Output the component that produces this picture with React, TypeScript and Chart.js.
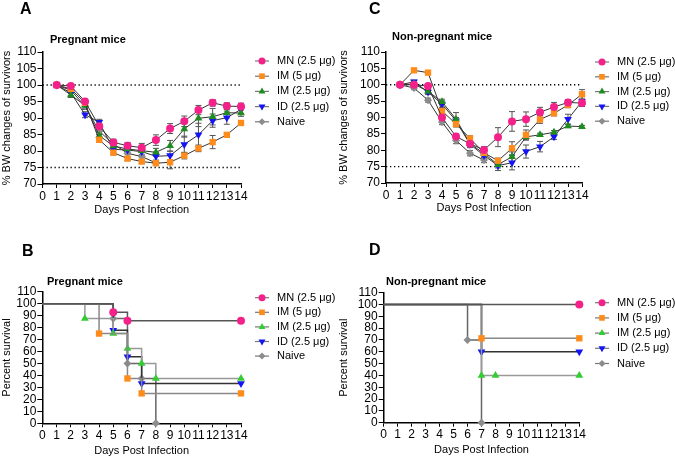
import React, { useEffect, useRef } from 'react';
import { Chart, registerables } from 'chart.js';
import { drawPoint } from 'chart.js/helpers';

Chart.register(...registerables);

const FONT = "'Liberation Sans', Arial, Helvetica, sans-serif";

// ---------- shared categories ----------
const groupLabels = ['MN (2.5 μg)', 'IM (5 μg)', 'IM (2.5 μg)', 'ID (2.5 μg)', 'Naive'];
const colorsTop = ['#F5218A', '#FF8C1A', '#1E8C1E', '#1414F5', '#8C8C8C'];
const colorsBottom = ['#F5218A', '#FF8C1A', '#33CC33', '#1414F5', '#8C8C8C'];
const pointStyles = ['circle', 'rect', 'triangle', 'triangle', 'rectRot'];
const pointRotations = [0, 0, 0, 180, 0];
const pointRadii = [4, 4.5, 4.5, 4.5, 4];
const kmLineColors = ['#555555', '#888888', '#999999', '#333333', '#666666'];
const xTickValues = [0, 1, 2, 3, 4, 5, 6, 7, 8, 9, 10, 11, 12, 13, 14];
const bwTickValues = [70, 75, 80, 85, 90, 95, 100, 105, 110];
const survTickValues = [0, 10, 20, 30, 40, 50, 60, 70, 80, 90, 100, 110];
const bwRefLines = [100, 75];

// ---------- Panel A: BW, pregnant ----------
const days = [1, 2, 3, 4, 5, 6, 7, 8, 9, 10, 11, 12, 13, 14];
const aMN = [100, 99.7, 95.0, 87.5, 82.6, 81.6, 81.0, 83.3, 86.8, 89.0, 92.4, 94.6, 93.6, 93.5];
const aMNsem = [0, 0.3, 0.6, 0.8, 1.0, 1.0, 1.3, 1.6, 1.5, 1.6, 1.4, 1.0, 1.0, 1.0];
const aIM5 = [100, 98.8, 94.6, 83.4, 79.5, 77.7, 76.8, 76.3, 76.6, 78.6, 80.8, 82.7, 84.9, 88.5];
const aIM5sem = [0, 0.5, 0.6, 0.6, 0.7, 0.6, 0.6, 0.6, 2.0, 1.0, 1.0, 2.0, 0.5, 0.5];
const aIM25 = [100, 97.0, 93.8, 84.7, 81.5, 80.6, 80.1, 79.6, 81.6, 86.7, 89.9, 90.4, 91.6, 91.5];
const aIM25sem = [0, 0.8, 1.0, 1.0, 1.0, 1.0, 1.2, 1.2, 1.6, 2.5, 2.5, 2.5, 1.6, 1.0];
const aID = [100, 97.6, 91.0, 88.7, 80.5, 80.3, 79.8, 78.4, 78.6, 82.0, 84.9, 89.2, 90.1, 92.6];
const aIDsem = [0, 0.8, 0.9, 0.9, 1.0, 1.2, 1.2, 1.2, 1.3, 2.5, 3.5, 2.0, 2.0, 1.2];
const aNaive = [100, 98.4, 93.6, 86.0, 82.1, 79.3, 78.3, 76.4];
const aNaiveSem = [0, 0.8, 1.0, 1.0, 1.2, 1.2, 1.2, 0.8];

// ---------- Panel C: BW, non-pregnant ----------
const cMN = [100, 100, 99.6, 90.0, 84.2, 82.0, 80.1, 84.0, 88.8, 89.5, 91.6, 93.2, 94.6, 94.4];
const cMNsem = [0, 0.3, 0.5, 0.8, 0.8, 0.8, 1.0, 2.9, 3.0, 2.2, 1.5, 1.4, 0.9, 1.0];
const cIM5 = [100, 104.4, 103.7, 92.0, 88.0, 83.6, 79.2, 76.8, 80.6, 84.7, 89.4, 91.3, 93.8, 97.1];
const cIM5sem = [0, 0.5, 0.5, 0.9, 0.9, 0.8, 0.8, 0.8, 2.0, 1.5, 1.2, 0.8, 0.8, 1.4];
const cIM25 = [100, 100.2, 98.0, 94.8, 89.5, 82.0, 79.0, 75.6, 78.0, 84.1, 84.7, 85.5, 87.4, 87.2];
const cIM25sem = [0, 0.4, 0.6, 0.8, 2.0, 1.0, 1.0, 1.0, 1.5, 1.0, 0.5, 0.5, 0.5, 0.4];
const cID = [100, 100.9, 97.8, 94.1, 89.0, 81.8, 78.4, 75.3, 76.2, 79.6, 81.1, 84.1, 89.5, 94.9];
const cIDsem = [0, 0.5, 0.8, 1.0, 1.0, 1.0, 1.0, 1.5, 2.2, 2.0, 1.6, 0.8, 1.5, 1.5];
const cNaive = [100, 99.0, 95.3, 88.6, 83.0, 79.1, 77.0];
const cNaiveSem = [0, 0.5, 0.6, 0.8, 1.0, 0.8, 0.8];

// ---------- Panel B: survival, pregnant ----------
const bMNdays = [0, 5, 6, 14];
const bMNsurv = [100, 92.9, 85.7, 85.7];
const bIM5days = [0, 4, 6, 7, 14];
const bIM5surv = [100, 75, 37.5, 25, 25];
const bIM25days = [0, 3, 5, 6, 7, 8, 14];
const bIM25surv = [100, 87.5, 75, 62.5, 50, 37.5, 37.5];
const bIDdays = [0, 5, 6, 7, 14];
const bIDsurv = [100, 77.8, 55.6, 33.3, 33.3];
const bNaiveDays = [0, 5, 6, 7, 8];
const bNaiveSurv = [100, 87.5, 50, 37.5, 0];

// ---------- Panel D: survival, non-pregnant ----------
const dMNdays = [0, 14];
const dMNsurv = [100, 100];
const dIM5days = [0, 7, 14];
const dIM5surv = [100, 71.4, 71.4];
const dIM25days = [0, 7, 8, 14];
const dIM25surv = [100, 40, 40, 40];
const dIDdays = [0, 7, 14];
const dIDsurv = [100, 60, 60];
const dNaiveDays = [0, 6, 7];
const dNaiveSurv = [100, 70, 0];

type Series = { xs: number[]; ys: number[]; sem?: number[] };
type PanelCfg = {
  x: number; y: number; w: number; h: number;
  area: { l: number; r: number; t: number; b: number };
  padBottom: number;
  letter: string; letterX: number; letterY: number;
  title: string; titleX: number; titleY: number;
  yTitle: string; yMin: number; yMax: number; yTicks: number[];
  legendX: number; legendY: number; legendDy: number;
  kind: 'bw' | 'surv';
  colors: string[];
  series: Series[];
};

const panels: PanelCfg[] = [
  {
    x: 0, y: 0, w: 337, h: 230,
    area: { l: 42.5, r: 241, t: 52, b: 184 }, padBottom: 13.4,
    letter: 'A', letterX: 20, letterY: 10,
    title: 'Pregnant mice', titleX: 50, titleY: 40,
    yTitle: '% BW changes of survivors', yMin: 70, yMax: 110, yTicks: bwTickValues,
    legendX: 255, legendY: 61, legendDy: 15.2,
    kind: 'bw', colors: colorsTop,
    series: [
      { xs: days, ys: aMN, sem: aMNsem },
      { xs: days, ys: aIM5, sem: aIM5sem },
      { xs: days, ys: aIM25, sem: aIM25sem },
      { xs: days, ys: aID, sem: aIDsem },
      { xs: days.slice(0, aNaive.length), ys: aNaive, sem: aNaiveSem },
    ],
  },
  {
    x: 337, y: 0, w: 338, h: 230,
    area: { l: 49, r: 245, t: 52, b: 183 }, padBottom: 15,
    letter: 'C', letterX: 32, letterY: 10,
    title: 'Non-pregnant mice', titleX: 55, titleY: 37,
    yTitle: '% BW changes of survivors', yMin: 70, yMax: 110, yTicks: bwTickValues,
    legendX: 258, legendY: 62, legendDy: 14.8,
    kind: 'bw', colors: colorsTop,
    series: [
      { xs: days, ys: cMN, sem: cMNsem },
      { xs: days, ys: cIM5, sem: cIM5sem },
      { xs: days, ys: cIM25, sem: cIM25sem },
      { xs: days, ys: cID, sem: cIDsem },
      { xs: days.slice(0, cNaive.length), ys: cNaive, sem: cNaiveSem },
    ],
  },
  {
    x: 0, y: 230, w: 337, h: 229,
    area: { l: 42.3, r: 241, t: 61.7, b: 193.3 }, padBottom: 1.7,
    letter: 'B', letterX: 22, letterY: 22,
    title: 'Pregnant mice', titleX: 47, titleY: 52,
    yTitle: 'Percent survival', yMin: 0, yMax: 110, yTicks: survTickValues,
    legendX: 255, legendY: 67.7, legendDy: 14.6,
    kind: 'surv', colors: colorsBottom,
    series: [
      { xs: bMNdays, ys: bMNsurv },
      { xs: bIM5days, ys: bIM5surv },
      { xs: bIM25days, ys: bIM25surv },
      { xs: bIDdays, ys: bIDsurv },
      { xs: bNaiveDays, ys: bNaiveSurv },
    ],
  },
  {
    x: 337, y: 230, w: 338, h: 229,
    area: { l: 46.7, r: 242.3, t: 62.7, b: 192.7 }, padBottom: 2.4,
    letter: 'D', letterX: 32, letterY: 21,
    title: 'Non-pregnant mice', titleX: 49, titleY: 52.3,
    yTitle: 'Percent survival', yMin: 0, yMax: 110, yTicks: survTickValues,
    legendX: 258, legendY: 72.7, legendDy: 15.2,
    kind: 'surv', colors: colorsBottom,
    series: [
      { xs: dMNdays, ys: dMNsurv },
      { xs: dIM5days, ys: dIM5surv },
      { xs: dIM25days, ys: dIM25surv },
      { xs: dIDdays, ys: dIDsurv },
      { xs: dNaiveDays, ys: dNaiveSurv },
    ],
  },
];

function buildChart(canvas: HTMLCanvasElement, cfg: PanelCfg) {
  const isBW = cfg.kind === 'bw';
  const datasets: any[] = cfg.series.map((s, i) => ({
    label: groupLabels[i],
    data: s.xs.map((x, j) => ({ x, y: s.ys[j] })),
    borderColor: isBW ? '#333333' : kmLineColors[i],
    borderWidth: isBW ? 1 : 1.5,
    backgroundColor: cfg.colors[i],
    pointBackgroundColor: cfg.colors[i],
    pointBorderWidth: 0,
    pointStyle: pointStyles[i],
    rotation: pointRotations[i],
    pointRadius: isBW ? pointRadii[i] : (c: any) => (c.dataIndex === 0 ? 0 : pointRadii[i]),
    stepped: isBW ? false : 'before',
    tension: 0,
    clip: false,
    fill: false,
  }));
  if (isBW) {
    bwRefLines.forEach((v) => {
      datasets.push({
        label: 'ref' + v,
        data: [{ x: 0, y: v }, { x: 14, y: v }],
        borderColor: '#000000',
        borderWidth: 1.3,
        borderDash: [1.3, 2.7],
        pointRadius: 0,
        clip: false,
        fill: false,
      });
    });
  }

  const xh = cfg.h - cfg.area.b - cfg.padBottom;

  const errorBars = {
    id: 'errorBars',
    beforeDatasetsDraw(chart: any) {
      if (!isBW) return;
      const ctx = chart.ctx;
      const xs = chart.scales.x;
      const ys = chart.scales.y;
      ctx.save();
      ctx.strokeStyle = '#555555';
      ctx.lineWidth = 1;
      cfg.series.forEach((s) => {
        if (!s.sem) return;
        s.xs.forEach((d, j) => {
          const e = s.sem![j];
          if (!e) return;
          const px = xs.getPixelForValue(d);
          const y1 = ys.getPixelForValue(s.ys[j] - e);
          const y2 = ys.getPixelForValue(s.ys[j] + e);
          ctx.beginPath();
          ctx.moveTo(px, y1); ctx.lineTo(px, y2);
          ctx.moveTo(px - 3, y1); ctx.lineTo(px + 3, y1);
          ctx.moveTo(px - 3, y2); ctx.lineTo(px + 3, y2);
          ctx.stroke();
        });
      });
      ctx.restore();
    },
  };

  const decor = {
    id: 'decor',
    afterDraw(chart: any) {
      const ctx = chart.ctx;
      ctx.save();
      ctx.textBaseline = 'middle';
      ctx.textAlign = 'left';
      ctx.fillStyle = '#000';
      ctx.font = `bold 16px ${FONT}`;
      ctx.fillText(cfg.letter, cfg.letterX, cfg.letterY);
      ctx.font = `bold 11px ${FONT}`;
      ctx.fillText(cfg.title, cfg.titleX, cfg.titleY);
      groupLabels.forEach((lab, i) => {
        const y = cfg.legendY + i * cfg.legendDy;
        ctx.strokeStyle = '#777777';
        ctx.lineWidth = 1.2;
        ctx.beginPath();
        ctx.moveTo(cfg.legendX, y);
        ctx.lineTo(cfg.legendX + 14, y);
        ctx.stroke();
        ctx.fillStyle = cfg.colors[i];
        drawPoint(ctx, { pointStyle: pointStyles[i], rotation: pointRotations[i], radius: pointRadii[i] - 0.5, borderWidth: 0 } as any, cfg.legendX + 7, y);
        ctx.fillStyle = '#000';
        ctx.font = `11px ${FONT}`;
        ctx.fillText(lab, cfg.legendX + 22, y);
      });
      ctx.restore();
    },
  };

  return new Chart(canvas, {
    type: 'line',
    data: { datasets },
    options: {
      responsive: false,
      animation: false,
      devicePixelRatio: 1,
      events: [],
      layout: { padding: { left: 0, top: cfg.area.t, right: cfg.w - cfg.area.r, bottom: cfg.padBottom } },
      plugins: { legend: { display: false }, tooltip: { enabled: false }, title: { display: false } },
      scales: {
        x: {
          type: 'linear',
          min: 0,
          max: 14,
          afterFit: (s: any) => { s.height = xh; },
          afterBuildTicks: (s: any) => { s.ticks = xTickValues.map((v) => ({ value: v })); },
          ticks: { autoSkip: false, maxRotation: 0, minRotation: 0, padding: 1, color: '#000', font: { family: FONT, size: 12 } },
          grid: { display: true, drawOnChartArea: false, drawTicks: true, tickLength: 4, color: '#000', lineWidth: 1 },
          border: { display: true, color: '#000', width: 1.5 },
          title: { display: true, text: 'Days Post Infection', color: '#000', padding: 0, font: { family: FONT, size: 11 } },
        },
        y: {
          type: 'linear',
          min: cfg.yMin,
          max: cfg.yMax,
          afterFit: (s: any) => { s.width = cfg.area.l; },
          afterBuildTicks: (s: any) => { s.ticks = cfg.yTicks.map((v) => ({ value: v })); },
          ticks: { autoSkip: false, padding: 1, color: '#000', font: { family: FONT, size: 12 } },
          grid: { display: true, drawOnChartArea: false, drawTicks: true, tickLength: 5, color: '#000', lineWidth: 1 },
          border: { display: true, color: '#000', width: 1.5 },
          title: { display: true, text: cfg.yTitle, color: '#000', padding: 0, font: { family: FONT, size: 11 } },
        },
      },
    } as any,
    plugins: [errorBars, decor],
  });
}

function Panel({ cfg }: { cfg: PanelCfg }) {
  const ref = useRef<HTMLCanvasElement | null>(null);
  useEffect(() => {
    if (!ref.current) return;
    const chart = buildChart(ref.current, cfg);
    return () => chart.destroy();
  }, [cfg]);
  return (
    <canvas
      ref={ref}
      width={cfg.w}
      height={cfg.h}
      style={{ position: 'absolute', left: cfg.x, top: cfg.y, width: cfg.w, height: cfg.h }}
    />
  );
}

export default function App() {
  return (
    <div style={{ position: 'fixed', left: 0, top: 0, width: 675, height: 459, background: '#fff' }}>
      {panels.map((p) => (
        <Panel key={p.letter} cfg={p} />
      ))}
    </div>
  );
}
